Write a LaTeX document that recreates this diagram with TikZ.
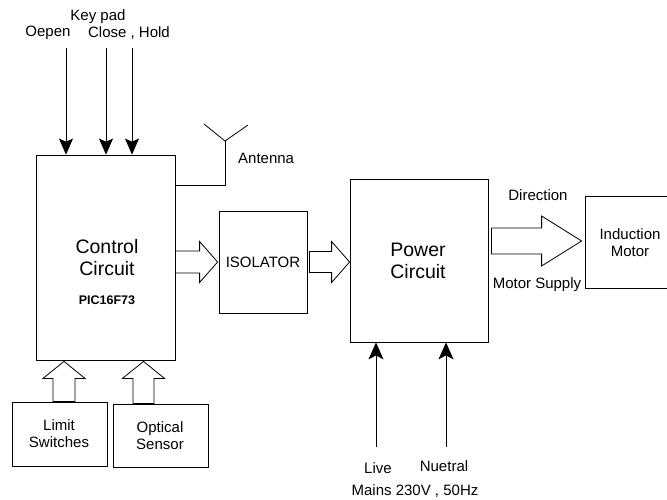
\documentclass[tikz,border=0pt]{standalone}
\usepackage{fontspec}
\setmainfont{Liberation Sans}
\usetikzlibrary{arrows.meta,calc}
\tikzset{
  box/.style={draw=black,line width=0.8pt,minimum width=0pt,minimum height=0pt,inner sep=0pt},
  lbl/.style={font=\fontsize{15}{17}\selectfont,inner sep=0pt,align=center},
  big/.style={font=\fontsize{19.5}{22}\selectfont,inner sep=0pt,align=center},
  wire/.style={draw=black,line width=0.8pt},
  kparrow/.style={wire,-{Stealth[width=14pt,length=16pt,inset=3pt]}},
  blk/.style={draw=black,line width=0.8pt,fill=white,line join=miter}
}
\begin{document}
\begin{tikzpicture}[x=1pt,y=-1pt]
\useasboundingbox (0,0) rectangle (667,499);
\clip (0,0) rectangle (667,499);
% boxes
\node[box,minimum width=139pt,minimum height=205pt] (ctrl) at (105.5,257.5) {};
\node[box,minimum width=88pt,minimum height=102pt] (iso) at (263,262) {};
\node[box,minimum width=138pt,minimum height=163pt] (pow) at (419,260.5) {};
\node[box,minimum width=130pt,minimum height=92pt] (mot) at (650,242) {};
\node[box,minimum width=95pt,minimum height=64pt] (lim) at (59.5,434) {};
\node[box,minimum width=95pt,minimum height=63pt] (opt) at (160.5,435.5) {};
% texts in boxes
\node[big] (ctrlt) at (107,258) {Control\\Circuit};
\node[font=\bfseries\fontsize{12.5}{14}\selectfont,inner sep=0pt] (pic) at (107,300) {PIC16F73};
\node[lbl] (isot) at (263,262) {ISOLATOR};
\node[big] (powt) at (418,261) {Power\\Circuit};
\node[lbl] (mott) at (630,242.5) {Induction\\Motor};
\node[lbl] (limt) at (59,434) {Limit\\Switches};
\node[lbl] (optt) at (160,435.5) {Optical\\Sensor};
% keypad labels
\node[lbl] (kp) at (98,17) {Key pad};
\node[lbl] (open) at (48,33) {Oepen};
\node[lbl] (close) at (129,33) {Close , Hold};
% keypad arrows
\coordinate (k1) at (66,48);
\coordinate (k2) at (106,48);
\coordinate (k3) at (132,48);
\draw[kparrow] (k1) -- (k1 |- ctrl.north);
\draw[kparrow] (k2) -- (k2 |- ctrl.north);
\draw[kparrow] (k3) -- (k3 |- ctrl.north);
% antenna
\coordinate (ant) at (225,141);
\coordinate (antl) at (204,124);
\coordinate (antr) at (248,125);
\coordinate (antb) at (225,185);
\draw[wire] (antl) -- (ant) -- (antr);
\draw[wire] (ant) -- (antb) -- (antb -| ctrl.east);
\node[lbl,anchor=west] (antt) at (238,158) {Antenna};
% block arrow ctrl -> iso
\coordinate (s1) at (ctrl.east |- iso.center);
\coordinate (t1) at ($(iso.west)+(-1,0)$);
\draw[blk] ($(s1)+(0,-11)$) -- ($(t1)+(-18,-11)$) -- ($(t1)+(-18,-20.5)$) -- (t1)
  -- ($(t1)+(-18,20.5)$) -- ($(t1)+(-18,11)$) -- ($(s1)+(0,11)$) -- cycle;
% block arrow iso -> power
\coordinate (s2) at ($(iso.east)+(2,0)$);
\coordinate (t2) at (pow.west |- iso.center);
\draw[blk] ($(s2)+(0,-10.5)$) -- ($(t2)+(-18,-10.5)$) -- ($(t2)+(-18,-20.5)$) -- (t2)
  -- ($(t2)+(-18,20.5)$) -- ($(t2)+(-18,10.5)$) -- ($(s2)+(0,10.5)$) -- cycle;
% block arrow power -> motor
\coordinate (s3) at ($(pow.east |- mot.center)+(3,-1)$);
\coordinate (t3) at ($(mot.west)+(-3,-1)$);
\draw[blk] ($(s3)+(0,-13)$) -- ($(t3)+(-40,-13)$) -- ($(t3)+(-40,-25)$) -- (t3)
  -- ($(t3)+(-40,25)$) -- ($(t3)+(-40,13)$) -- ($(s3)+(0,13)$) -- cycle;
\node[lbl] (dir) at (538,195) {Direction};
\node[lbl] (msup) at (537,285) {Motor Supply};
% up block arrows
\coordinate (b1) at ($(lim.north)+(4.5,0)$);
\coordinate (u1) at ($(b1 |- ctrl.south)+(0,1)$);
\draw[blk] ($(b1)+(-11,0)$) -- ($(u1)+(-11,17)$) -- ($(u1)+(-21,17)$) -- (u1)
  -- ($(u1)+(21,17)$) -- ($(u1)+(11,17)$) -- ($(b1)+(11,0)$) -- cycle;
\coordinate (b2) at ($(opt.north)+(-17,0)$);
\coordinate (u2) at ($(b2 |- ctrl.south)+(0,1)$);
\draw[blk] ($(b2)+(-10.5,0)$) -- ($(u2)+(-10.5,17)$) -- ($(u2)+(-21,17)$) -- (u2)
  -- ($(u2)+(21,17)$) -- ($(u2)+(10.5,17)$) -- ($(b2)+(10.5,0)$) -- cycle;
% mains arrows
\coordinate (m1) at (376,447);
\coordinate (m2) at (446,447);
\draw[wire,-{Stealth[width=15pt,length=17pt,inset=4pt]}] (m1) -- (m1 |- pow.south);
\draw[wire,-{Stealth[width=15pt,length=17pt,inset=4pt]}] (m2) -- (m2 |- pow.south);
\node[lbl] (live) at (378,468) {Live};
\node[lbl] (neu) at (444,466) {Nuetral};
\node[lbl] (mains) at (415,491) {Mains 230V , 50Hz};
\end{tikzpicture}
\end{document}
